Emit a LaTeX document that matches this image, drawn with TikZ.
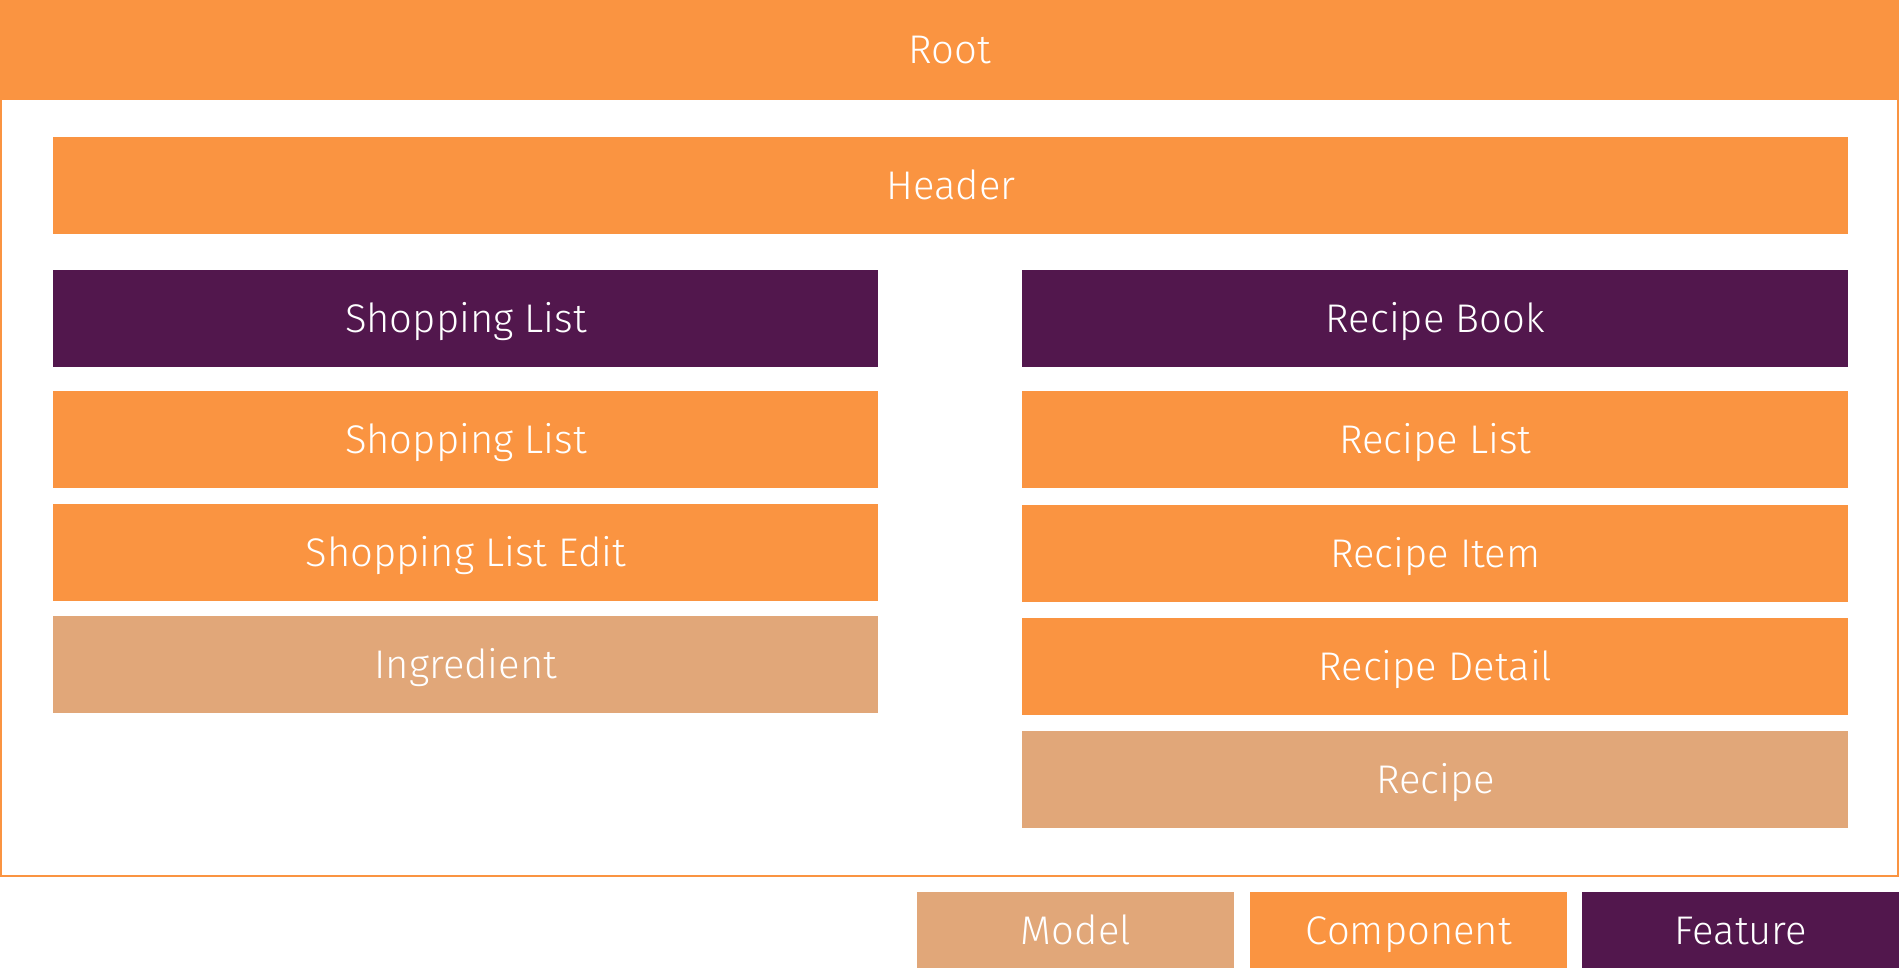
\documentclass[tikz,border=0pt]{standalone}
\usepackage{fontspec}
\setmainfont{Fira Sans}[UprightFont=* Light]
\definecolor{compo}{HTML}{FA9441}
\definecolor{modl}{HTML}{E1A779}
\definecolor{feat}{HTML}{52174D}
\tikzset{
  blk/.style={rectangle, anchor=north west, inner sep=0pt, text=white,
    font=\fontsize{20}{24}\selectfont, text height=14pt, text depth=0pt,
    minimum height=48.5pt},
  compbox/.style={blk, fill=compo},
  modelbox/.style={blk, fill=modl},
  featbox/.style={blk, fill=feat},
  legbox/.style={minimum width=158.5pt, minimum height=38pt},
}

\begin{document}
\begin{tikzpicture}[x=1pt, y=1pt]
    \useasboundingbox (0,0) rectangle (949.5,-484);
    % outer frame of the root
    \draw[compo, line width=1pt] (0.5,-49.5) rectangle (949,-438);
    \node[compbox, minimum width=949.5pt, minimum height=49.5pt] (root) at (0,0) {Root};
    \node[compbox, minimum width=897.5pt] (header) at (26.5,-68.5) {Header};
    % shopping list side
    \node[featbox, minimum width=412.5pt] (shopfeat) at (26.5,-135) {Shopping List};
    \node[compbox, minimum width=412.5pt] (shoplist) at (26.5,-195.5) {Shopping List};
    \node[compbox, minimum width=412.5pt] (shopedit) at (26.5,-252) {Shopping List Edit};
    \node[modelbox, minimum width=412.5pt] (ingredient) at (26.5,-308) {Ingredient};
    % recipe book side
    \node[featbox, minimum width=413pt] (recipebook) at (511,-135) {Recipe Book};
    \node[compbox, minimum width=413pt] (recipelist) at (511,-195.5) {Recipe List};
    \node[compbox, minimum width=413pt] (recipeitem) at (511,-252.5) {Recipe Item};
    \node[compbox, minimum width=413pt] (recipedetail) at (511,-309) {Recipe Detail};
    \node[modelbox, minimum width=413pt] (recipe) at (511,-365.5) {Recipe};
    % legend
    \node[modelbox, legbox] (legmodel) at (458.5,-446) {Model};
    \node[compbox, legbox] (legcomp) at (625,-446) {Component};
    \node[featbox, legbox] (legfeat) at (791,-446) {Feature};
\end{tikzpicture}
\end{document}
